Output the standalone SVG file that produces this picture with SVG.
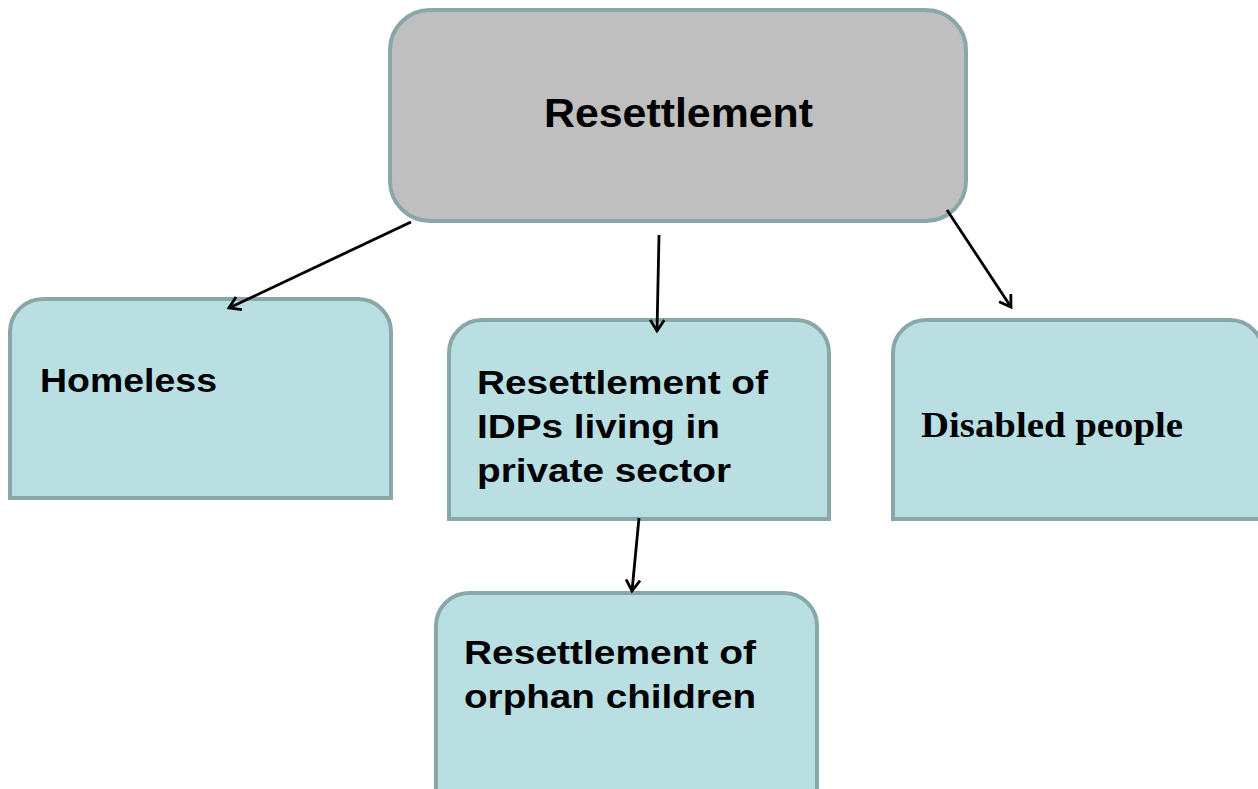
<svg xmlns="http://www.w3.org/2000/svg" width="1258" height="789" viewBox="0 0 1258 789">
<style>
.box{fill:#B9DFE3;stroke:#89A6A8;stroke-width:4}
.top{fill:#BFBFBF;stroke:#89A6A8;stroke-width:4}
.t{font-family:"Liberation Sans",Arial,sans-serif;font-weight:bold;fill:#000}
.s{font-family:"Liberation Serif","Times New Roman",serif;font-weight:bold;fill:#000}
.c{stroke:#000;stroke-width:2.8;fill:none}
</style>
<defs>
<marker id="ah" markerUnits="userSpaceOnUse" markerWidth="30" markerHeight="30" refX="15" refY="15" orient="auto" viewBox="0 0 30 30">
<path d="M4,8 L15,15 L4,22" fill="none" stroke="#000" stroke-width="2.8"/>
</marker>
</defs>
<rect width="1258" height="789" fill="#fff"/>
<g id="node-resettlement">
<rect class="top" x="390" y="10" width="576" height="211" rx="40" ry="40"/>
<text class="t" x="544" y="127" font-size="40" textLength="269" lengthAdjust="spacingAndGlyphs">Resettlement</text>
</g>
<g id="node-homeless">
<path class="box" d="M10,498 V332 A33,33 0 0 1 43,299 H358 A33,33 0 0 1 391,332 V498 Z"/>
<text class="t" x="40" y="392" font-size="34" textLength="177" lengthAdjust="spacingAndGlyphs">Homeless</text>
</g>
<g id="node-idps">
<path class="box" d="M449,519 V353 A33,33 0 0 1 482,320 H796 A33,33 0 0 1 829,353 V519 Z"/>
<text class="t" x="477" y="394" font-size="34" textLength="291" lengthAdjust="spacingAndGlyphs">Resettlement of</text>
<text class="t" x="477" y="438" font-size="34" textLength="243" lengthAdjust="spacingAndGlyphs">IDPs living in</text>
<text class="t" x="477" y="482" font-size="34" textLength="254" lengthAdjust="spacingAndGlyphs">private sector</text>
</g>
<g id="node-disabled">
<path class="box" d="M893,519 V353 A33,33 0 0 1 926,320 H1230 A33,33 0 0 1 1263,353 V519 Z"/>
<text class="s" x="921" y="437" font-size="35" textLength="262" lengthAdjust="spacingAndGlyphs">Disabled people</text>
</g>
<g id="node-orphans">
<path class="box" d="M436,800 V626 A33,33 0 0 1 469,593 H784 A33,33 0 0 1 817,626 V800 Z"/>
<text class="t" x="464" y="664" font-size="34" textLength="292" lengthAdjust="spacingAndGlyphs">Resettlement of</text>
<text class="t" x="464" y="708" font-size="34" textLength="292" lengthAdjust="spacingAndGlyphs">orphan children</text>
</g>
<g id="connectors">
<line class="c" x1="411" y1="222" x2="229" y2="308" marker-end="url(#ah)"/>
<line class="c" x1="659" y1="235" x2="657" y2="331" marker-end="url(#ah)"/>
<line class="c" x1="947" y1="210" x2="1011" y2="307" marker-end="url(#ah)"/>
<line class="c" x1="639" y1="518" x2="632" y2="591" marker-end="url(#ah)"/>
</g>
</svg>
